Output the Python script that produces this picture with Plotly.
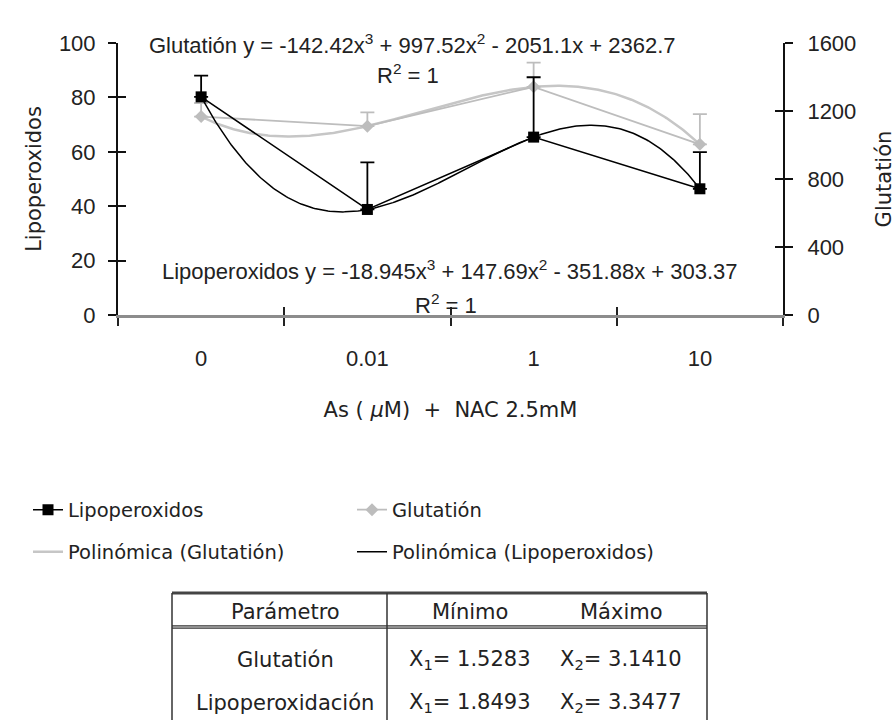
import numpy as np
import plotly.graph_objects as go

# ---- data -------------------------------------------------------------
dose_labels = ["0", "0.01", "1", "10"]
dose_pos = [1, 2, 3, 4]

lipo = [80.2, 38.8, 65.4, 46.4]
lipo_err = [7.8, 17.3, 22.0, 13.5]

glut = [1167, 1111, 1342, 1004]
glut_err = [80, 81, 142, 178]

# cubic trend-line coefficients (highest power first)
glut_coef = [-142.42, 997.52, -2051.1, 2362.7]
lipo_coef = [-18.945, 147.69, -351.88, 303.37]
glut_r2 = 1
lipo_r2 = 1

table_header = ["Parámetro", "Mínimo", "Máximo"]
table_param = ["Glutatión", "Lipoperoxidación"]
table_min = [1.5283, 1.8493]
table_max = [3.1410, 3.3477]

# ---- style ------------------------------------------------------------
FONT = "Liberation Sans, Arial, sans-serif"
WIDE = "DejaVu Sans, Verdana, sans-serif"
TXT = "#222222"
BLACK = "#000000"
GRAY_DATA = "#bdbdbd"
GRAY_FIT = "#c6c6c6"

W, H = 896, 720
ML, MR, MT, MB = 118, 113, 43, 405
PW, PH = W - ML - MR, H - MT - MB


def px(x):
    return (x - ML) / PW


def py(y):
    return (H - MB - y) / PH


def equation(name, coef):
    powers = ["x<sup>3</sup>", "x<sup>2</sup>", "x", ""]
    out = f"{name} y = " + ("-" if coef[0] < 0 else "") + f"{abs(coef[0]):g}{powers[0]}"
    for c, p in zip(coef[1:], powers[1:]):
        out += (" - " if c < 0 else " + ") + f"{abs(c):g}{p}"
    return out


xfit = np.linspace(dose_pos[0], dose_pos[-1], 300)

fig = go.Figure()

# Glutatión on the right-hand axis (base subplot)
fig.add_trace(go.Scatter(
    x=xfit, y=np.polyval(glut_coef, xfit), mode="lines",
    line=dict(color=GRAY_FIT, width=2.5),
    name="Polinómica (Glutatión)", legend="legend3",
    xaxis="x", yaxis="y", hoverinfo="skip"))
fig.add_trace(go.Scatter(
    x=dose_pos, y=glut, mode="lines+markers",
    line=dict(color=GRAY_DATA, width=1.8),
    marker=dict(symbol="diamond", size=10, color=GRAY_DATA),
    error_y=dict(type="data", array=glut_err, symmetric=False,
                 arrayminus=[0] * 4, color=GRAY_DATA, thickness=1.8, width=7),
    name="Glutatión", legend="legend2",
    xaxis="x", yaxis="y"))

# Lipoperoxidos on the left-hand axis (overlay)
fig.add_trace(go.Scatter(
    x=xfit, y=np.polyval(lipo_coef, xfit), mode="lines",
    line=dict(color=BLACK, width=1.5),
    name="Polinómica (Lipoperoxidos)", legend="legend4",
    xaxis="x", yaxis="y2", hoverinfo="skip"))
fig.add_trace(go.Scatter(
    x=dose_pos, y=lipo, mode="lines+markers",
    line=dict(color=BLACK, width=1.5),
    marker=dict(symbol="square", size=11, color=BLACK),
    error_y=dict(type="data", array=lipo_err, symmetric=False,
                 arrayminus=[0] * 4, color=BLACK, thickness=1.8, width=7),
    name="Lipoperoxidos", legend="legend",
    xaxis="x", yaxis="y2"))

# empty traces so the tick-only overlay axes are drawn
for xa, ya in (("x", "y3"), ("x", "y4"), ("x2", "y")):
    fig.add_trace(go.Scatter(x=[None], y=[None], xaxis=xa, yaxis=ya,
                             showlegend=False, hoverinfo="skip"))

tickfont = dict(family=FONT, size=22, color=TXT)
titlefont = dict(family=WIDE, size=21, color=TXT)


def legend_box(x_text, y_mid):
    # one legend entry per box, placed by the start of its label
    return dict(
        orientation="h", xref="container", yref="container",
        x=(x_text - 40) / W, y=(H - y_mid) / H,
        xanchor="left", yanchor="middle",
        font=dict(family=WIDE, size=19.5, color=TXT),
        bgcolor="rgba(0,0,0,0)", borderwidth=0,
    )


common = dict(showgrid=False, zeroline=False, automargin=False)

fig.update_layout(
    width=W, height=H,
    margin=dict(l=ML, r=MR, t=MT, b=MB, autoexpand=False),
    paper_bgcolor="white", plot_bgcolor="white",
    font=dict(family=FONT, size=20, color=TXT),
    xaxis=dict(
        range=[0.5, 4.5], tickvals=dose_pos, ticktext=dose_labels,
        ticks="", tickfont=tickfont, ticklabelstandoff=22,
        showline=True, linecolor="#8c8c8c", linewidth=3, anchor="y",
        minor=dict(tickvals=[0.5, 1.5, 2.5, 3.5, 4.5], ticks="outside",
                   ticklen=8, tickwidth=2, tickcolor="#222"),
        title=dict(text="As ( <i>µ</i>M)  +  NAC 2.5mM",
                   font=titlefont, standoff=32),
        **common,
    ),
    xaxis2=dict(
        range=[0.5, 4.5], overlaying="x", anchor="y", side="bottom",
        tickvals=[0.5, 1.5, 2.5, 3.5, 4.5], ticks="inside", ticklen=8,
        tickwidth=2, tickcolor="#222", showticklabels=False,
        showline=False, **common,
    ),
    yaxis=dict(
        range=[0, 1600], tickvals=[0, 400, 800, 1200, 1600], side="right",
        anchor="x", ticks="outside", ticklen=8, tickwidth=2, tickcolor="#111",
        tickfont=tickfont, ticklabelstandoff=10,
        showline=True, linecolor="#111", linewidth=2,
        title=dict(text="Glutatión", font=titlefont, standoff=24),
        **common,
    ),
    yaxis2=dict(
        range=[0, 100], tickvals=[0, 20, 40, 60, 80, 100], side="left",
        overlaying="y", anchor="x", ticks="outside", ticklen=8, tickwidth=2,
        tickcolor="#111", tickfont=tickfont, ticklabelstandoff=8,
        showline=True, linecolor="#111", linewidth=2,
        title=dict(text="Lipoperoxidos", font=titlefont, standoff=12),
        **common,
    ),
    yaxis3=dict(
        range=[0, 1600], tickvals=[0, 400, 800, 1200, 1600], side="right",
        overlaying="y", anchor="x", ticks="inside", ticklen=8, tickwidth=2,
        tickcolor="#111", showticklabels=False, showline=False, **common,
    ),
    yaxis4=dict(
        range=[0, 100], tickvals=[0, 20, 40, 60, 80, 100], side="left",
        overlaying="y", anchor="x", ticks="inside", ticklen=8, tickwidth=2,
        tickcolor="#111", showticklabels=False, showline=False, **common,
    ),
    legend=legend_box(68, 510),
    legend2=legend_box(392, 510),
    legend3=legend_box(68, 552),
    legend4=legend_box(392, 552),
    showlegend=True,
)

# trend-line equations
ann = [
    dict(text=equation("Glutatión", glut_coef), x=px(412), y=py(44)),
    dict(text=f"R<sup>2</sup> = {glut_r2}", x=px(408), y=py(74)),
    dict(text=equation("Lipoperoxidos", lipo_coef), x=px(450), y=py(270)),
    dict(text=f"R<sup>2</sup> = {lipo_r2}", x=px(446), y=py(304)),
]
for a in ann:
    fig.add_annotation(xref="paper", yref="paper", xanchor="center",
                       yanchor="middle", showarrow=False,
                       font=dict(family=FONT, size=22, color=TXT), **a)

# summary table of the fitted extrema
col_x = [px(285), px(470), px(621)]
row_y = [py(612), py(660), py(703)]
cells = [(t, cx, row_y[0]) for t, cx in zip(table_header, col_x)]
for i, name in enumerate(table_param):
    cells.append((name, col_x[0], row_y[i + 1]))
    cells.append((f"X<sub>1</sub>= {table_min[i]:.4f}", col_x[1], row_y[i + 1]))
    cells.append((f"X<sub>2</sub>= {table_max[i]:.4f}", col_x[2], row_y[i + 1]))
for text, cx, cy in cells:
    fig.add_annotation(xref="paper", yref="paper", x=cx, y=cy, text=text,
                       xanchor="center", yanchor="middle", showarrow=False,
                       font=dict(family=WIDE, size=21, color=TXT))

line_style = dict(xref="paper", yref="paper", type="line", layer="above")
tl, tr, tdiv, ttop, thead, tbot = 172, 707, 387, 593, 627, 740
fig.add_shape(x0=px(tl), x1=px(tr), y0=py(ttop), y1=py(ttop),
              line=dict(color="#444", width=3), **line_style)
fig.add_shape(x0=px(tl), x1=px(tr), y0=py(thead), y1=py(thead),
              line=dict(color="#666", width=4), **line_style)
fig.add_shape(x0=px(tl), x1=px(tr), y0=py(thead), y1=py(thead),
              line=dict(color="#bbb", width=1), **line_style)
for xv in (tl, tdiv, tr):
    fig.add_shape(x0=px(xv), x1=px(xv), y0=py(ttop), y1=py(tbot),
                  line=dict(color="#333", width=1.5), **line_style)

fig.write_html("out.html")
